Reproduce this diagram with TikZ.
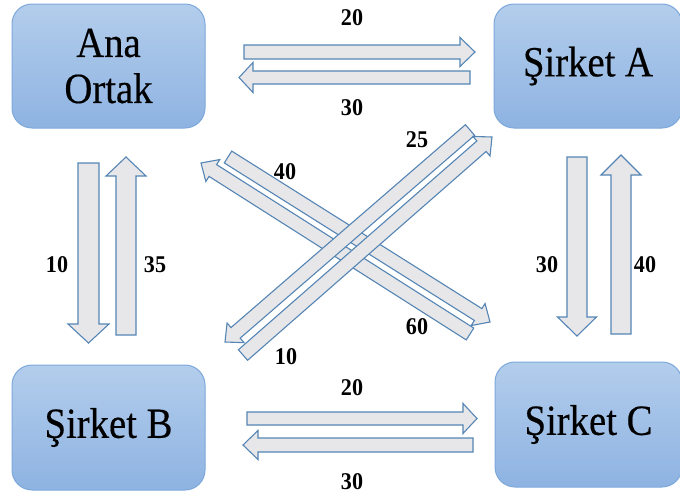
\documentclass[tikz,border=0pt]{standalone}
\usepackage{fontspec}
\setmainfont{Liberation Serif}
\newfontfamily\boxfont[FakeStretch=0.9, FakeBold=0.4]{Liberation Serif}
\newfontfamily\numfont[FakeStretch=0.92]{Liberation Serif}
\usetikzlibrary{calc}
\definecolor{boxtop}{HTML}{B3CDEC}
\definecolor{boxbot}{HTML}{8EB3E2}
\definecolor{boxline}{HTML}{7DA8DA}
\definecolor{arrfill}{HTML}{E7E7E9}
\definecolor{arrline}{HTML}{5585B5}
\tikzset{
  company/.style={rounded corners=20pt, top color=boxtop, bottom color=boxbot, draw=boxline, line width=1pt,
    align=center, inner sep=0pt, font=\boxfont\fontsize{43}{46}\selectfont},
  blockarrow/.style={fill=arrfill, draw=arrline, line width=1.1pt, line join=miter},
  amount/.style={font=\numfont\fontsize{24}{26}\selectfont\bfseries, inner sep=0pt}
}
% block arrow: start, tip, shaft half width, head half width, head length
\newcommand\barrow[5]{%
  \coordinate (ba) at ($(#2)!#5pt!(#1)$);
  \draw[blockarrow] ($(#1)!#3pt!90:(#2)$) -- ($(ba)!#3pt!90:(#2)$) -- ($(ba)!#4pt!90:(#2)$) -- (#2)
     -- ($(ba)!#4pt!-90:(#2)$) -- ($(ba)!#3pt!-90:(#2)$) -- ($(#1)!#3pt!-90:(#2)$) -- cycle;}
\begin{document}
\begin{tikzpicture}[x=1pt,y=-1pt]
\useasboundingbox (0,0) rectangle (680,498);
% companies
\node[company, minimum width=193pt, minimum height=124pt] (ana) at (108.5,66) {Ana\\Ortak};
\node[company, minimum width=188pt, minimum height=124pt] (sa) at (588,66) {Şirket A};
\node[company, minimum width=193pt, minimum height=125pt] (sb) at (108.5,427.5) {Şirket B};
\node[company, minimum width=187pt, minimum height=125pt] (sc) at (588.5,424.5) {Şirket C};
% arrow end points
\coordinate (t1s) at (244,52);   \coordinate (t1e) at (475,52);
\coordinate (t2s) at (470,77.5); \coordinate (t2e) at (239,77.5);
\coordinate (b1s) at (247,418.5);\coordinate (b1e) at (477,418.5);
\coordinate (b2s) at (473,445);  \coordinate (b2e) at (243,445);
\coordinate (l1s) at (88.5,163); \coordinate (l1e) at (88.5,343);
\coordinate (l2s) at (126,335);  \coordinate (l2e) at (126,157);
\coordinate (r1s) at (577,157);  \coordinate (r1e) at (577,336);
\coordinate (r2s) at (621,334);  \coordinate (r2e) at (621,155);
\coordinate (d1s) at (228,157);  \coordinate (d1e) at (490,322);
\coordinate (d2s) at (470,334);  \coordinate (d2e) at (201,163);
\coordinate (d3s) at (470,130);  \coordinate (d3e) at (225,342);
\coordinate (d4s) at (243,355);  \coordinate (d4e) at (492,137);
% horizontal
\barrow{t1s}{t1e}{7}{14.5}{15}
\barrow{t2s}{t2e}{6.5}{15}{14}
\barrow{b1s}{b1e}{6.5}{15}{14}
\barrow{b2s}{b2e}{7}{14.5}{15}
% vertical
\barrow{l1s}{l1e}{10.5}{20.5}{19}
\barrow{l2s}{l2e}{10}{20}{19}
\barrow{r1s}{r1e}{10}{19.5}{19}
\barrow{r2s}{r2e}{10}{20}{20}
% diagonals
\barrow{d1s}{d1e}{7}{13}{14}
\barrow{d2s}{d2e}{7}{13}{14}
\barrow{d3s}{d3e}{7}{13}{14}
\barrow{d4s}{d4e}{7}{13}{14}
% amounts
\node[amount] (n20a) at (352,18) {20};
\node[amount] (n30a) at (352,108) {30};
\node[amount] (n20b) at (352,388) {20};
\node[amount] (n30b) at (352,482) {30};
\node[amount] (n10l) at (57,265) {10};
\node[amount] (n35l) at (155,265) {35};
\node[amount] (n30r) at (547,265) {30};
\node[amount] (n40r) at (645,265) {40};
\node[amount] (n40d) at (285,172) {40};
\node[amount] (n25d) at (417,140) {25};
\node[amount] (n60d) at (417,327) {60};
\node[amount] (n10d) at (286,357) {10};
\end{tikzpicture}
\end{document}
